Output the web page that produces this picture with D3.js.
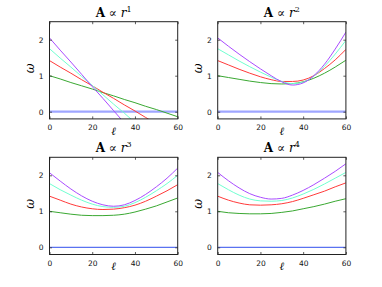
<!DOCTYPE html>
<html>
<head>
<meta charset="utf-8">
<script src="https://cdn.jsdelivr.net/npm/d3@7"></script>
<style>
  body { margin: 0; background: #fff; }
  svg { display: block; }
  .tick text { font: 7.5px "DejaVu Sans", sans-serif; fill: #111; }
</style>
</head>
<body>
<svg width="382" height="287"></svg>
<script>
// ell grid shared by every curve
var ell = [0, 5, 10, 15, 20, 25, 30, 35, 40, 45, 50, 55, 60];

var xTicks = [0, 20, 40, 60],
    yTicks = [0, 1, 2];

var powers = [1, 2, 3, 4];

// omega values, one array per series per panel
var purple1 = [2.05, 1.71, 1.38, 1.04, 0.70, 0.37, 0.03, -0.31, -0.65, -0.98, -1.32, -1.66, -1.99];
var cyan1   = [1.75, 1.49, 1.24, 0.98, 0.73, 0.47, 0.21, -0.04, -0.30, -0.55, -0.81, -1.07, -1.32];
var red1    = [1.42, 1.24, 1.07, 0.89, 0.72, 0.54, 0.37, 0.19, 0.02, -0.16, -0.34, -0.51, -0.69];
var green1  = [1.00, 0.91, 0.81, 0.72, 0.63, 0.53, 0.44, 0.34, 0.25, 0.15, 0.06, -0.04, -0.14];

var purple2 = [2.05, 1.82, 1.60, 1.39, 1.19, 1.00, 0.83, 0.74, 0.80, 1.00, 1.32, 1.74, 2.21];
var cyan2   = [1.75, 1.58, 1.41, 1.25, 1.10, 0.96, 0.84, 0.78, 0.82, 0.99, 1.26, 1.60, 1.98];
var red2    = [1.42, 1.30, 1.18, 1.07, 0.97, 0.89, 0.84, 0.84, 0.88, 1.00, 1.20, 1.44, 1.73];
var green2  = [1.00, 0.95, 0.90, 0.85, 0.81, 0.78, 0.77, 0.78, 0.83, 0.93, 1.07, 1.24, 1.43];

var purple3 = [2.07, 1.84, 1.62, 1.43, 1.28, 1.18, 1.14, 1.18, 1.30, 1.47, 1.68, 1.92, 2.20];
var cyan3   = [1.77, 1.60, 1.45, 1.31, 1.20, 1.13, 1.11, 1.14, 1.24, 1.39, 1.57, 1.77, 2.00];
var red3    = [1.42, 1.31, 1.20, 1.12, 1.07, 1.05, 1.06, 1.10, 1.17, 1.28, 1.42, 1.57, 1.74];
var green3  = [1.00, 0.96, 0.92, 0.89, 0.88, 0.88, 0.89, 0.92, 0.98, 1.06, 1.15, 1.26, 1.37];

var purple4 = [2.08, 1.85, 1.65, 1.49, 1.39, 1.34, 1.36, 1.45, 1.58, 1.74, 1.92, 2.11, 2.32];
var cyan4   = [1.77, 1.60, 1.45, 1.34, 1.29, 1.28, 1.30, 1.37, 1.48, 1.61, 1.76, 1.92, 2.08];
var red4    = [1.42, 1.31, 1.23, 1.18, 1.17, 1.18, 1.21, 1.27, 1.36, 1.46, 1.56, 1.68, 1.79];
var green4  = [1.00, 0.96, 0.94, 0.93, 0.93, 0.94, 0.97, 1.01, 1.07, 1.13, 1.20, 1.28, 1.35];

var zero = [0, 0, 0, 0, 0, 0, 0, 0, 0, 0, 0, 0, 0];

var panelSeries = [
  [green1, red1, cyan1, purple1],
  [green2, red2, cyan2, purple2],
  [green3, red3, cyan3, purple3],
  [green4, red4, cyan4, purple4]
];
var colors = ["#3aa832", "#ff3a3a", "#70ffd0", "#a94cff"];
var zeroStyle = [
  {color: "#9fa6ff", width: 2.2},
  {color: "#9fa6ff", width: 2.2},
  {color: "#5a72f0", width: 1.2},
  {color: "#5a72f0", width: 1.2}
];

var svg = d3.select("svg");

// panel boxes (left, top)
var boxes = [
  {left: 49.5, top: 21.7},
  {left: 217.7, top: 21.7},
  {left: 49.5, top: 157.3},
  {left: 217.7, top: 157.3}
];
var width = 128.2, height = 97.2;

var x = d3.scaleLinear().domain([0, 60]).range([0, width]),
    y = d3.scaleLinear().domain([-0.2, 2.5]).range([height, 0]);

var line = d3.line()
    .curve(d3.curveMonotoneX)
    .x(function(d) { return x(d[0]); })
    .y(function(d) { return y(d[1]); });

boxes.forEach(function(b, i) {
  var g = svg.append("g").attr("transform", "translate(" + b.left + "," + b.top + ")");

  g.append("clipPath").attr("id", "clip" + i)
    .append("rect").attr("width", width).attr("height", height);

  var plot = g.append("g").attr("clip-path", "url(#clip" + i + ")");

  plot.append("path")
      .attr("d", line(d3.zip(ell, zero)))
      .attr("fill", "none")
      .attr("stroke", zeroStyle[i].color)
      .attr("stroke-width", zeroStyle[i].width);

  panelSeries[i].forEach(function(s, j) {
    plot.append("path")
        .attr("d", line(d3.zip(ell, s)))
        .attr("fill", "none")
        .attr("stroke", colors[j])
        .attr("stroke-width", 1);
  });

  // axes: ticks inside, mirrored on top and right
  g.append("g")
      .attr("transform", "translate(0," + height + ")")
      .call(d3.axisBottom(x).tickValues(xTicks).tickSizeInner(-2.5).tickSizeOuter(0).tickPadding(6).tickFormat(d3.format("d")));
  g.append("g")
      .call(d3.axisTop(x).tickValues(xTicks).tickSizeInner(-2.5).tickSizeOuter(0).tickFormat(""));
  g.append("g")
      .call(d3.axisLeft(y).tickValues(yTicks).tickSizeInner(-2.5).tickSizeOuter(0).tickPadding(6).tickFormat(d3.format("d")));
  g.append("g")
      .attr("transform", "translate(" + width + ",0)")
      .call(d3.axisRight(y).tickValues(yTicks).tickSizeInner(-2.5).tickSizeOuter(0).tickFormat(""));
  g.selectAll(".domain").remove();
  g.selectAll(".tick line").attr("stroke", "#333").attr("stroke-width", 0.8);

  g.append("rect")
      .attr("width", width).attr("height", height)
      .attr("fill", "none").attr("stroke", "#222").attr("stroke-width", 1);

  // title
  var t = g.append("text")
      .attr("x", width / 2).attr("y", -5)
      .attr("text-anchor", "middle")
      .style("font-family", "'DejaVu Serif', 'Liberation Serif', serif")
      .style("font-size", "12px");
  t.append("tspan").attr("font-weight", "bold").text("A");
  t.append("tspan").text(" \u221D ");
  t.append("tspan").attr("font-style", "italic").text("r");
  t.append("tspan").attr("dy", -5).style("font-size", "8px").text(powers[i]);

  // axis labels
  g.append("text")
      .attr("x", width / 2).attr("y", height + 16)
      .attr("text-anchor", "middle")
      .style("font-family", "'DejaVu Serif', serif")
      .style("font-style", "italic")
      .style("font-size", "11px")
      .text("\u2113");
  g.append("text")
      .attr("transform", "translate(-16," + (height / 2 - 2) + ") rotate(-90)")
      .attr("text-anchor", "middle")
      .style("font-family", "'DejaVu Serif', serif")
      .style("font-style", "italic")
      .style("font-size", "12px")
      .text("\u03C9");
});
</script>
</body>
</html>
